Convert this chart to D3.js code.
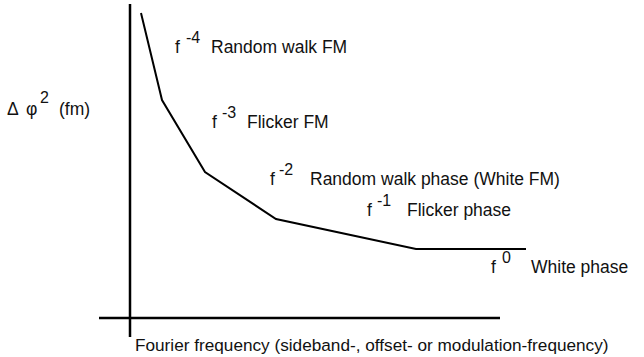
<!DOCTYPE html>
<html>
<head>
<meta charset="utf-8">
<script src="https://cdn.jsdelivr.net/npm/d3@7"></script>
<style>
  body { margin: 0; background: #fff; }
  text { font-family: "Liberation Sans", Arial, Helvetica, sans-serif; fill: #111; }
</style>
</head>
<body>
<div id="chart"></div>
<script>
// breakpoints of the noise curve (arbitrary units, origin at the axes cross)
const freq  = [11, 32, 75, 146, 286, 396];
const level = [305, 218, 146, 99, 69, 69];

// noise types
const exponents = ["-4", "-3", "-2", "-1", "0"];
const names = ["Random walk FM", "Flicker FM", "Random walk phase (White FM)", "Flicker phase", "White phase"];

const xTitle = "Fourier frequency (sideband-, offset- or modulation-frequency)";

const width = 644, height = 357;

const svg = d3.select("#chart")
  .append("svg")
  .attr("width", width)
  .attr("height", height);

const x = d3.scaleLinear().domain([0, 400]).range([130, 530]);
const y = d3.scaleLinear().domain([0, 320]).range([318, -2]);

// axes (just two crossing lines, no ticks)
svg.append("line")
  .attr("x1", x(-31)).attr("x2", x(370))
  .attr("y1", y(0)).attr("y2", y(0))
  .attr("stroke", "#000").attr("stroke-width", 2.5);

svg.append("line")
  .attr("x1", x(0)).attr("x2", x(0))
  .attr("y1", y(-19)).attr("y2", y(314))
  .attr("stroke", "#000").attr("stroke-width", 2.5);

const pts = freq.map((f, i) => [f, level[i]]);

svg.append("path")
  .datum(pts)
  .attr("fill", "none")
  .attr("stroke", "#000")
  .attr("stroke-width", 2)
  .attr("stroke-linejoin", "miter")
  .attr("d", d3.line().x(d => x(d[0])).y(d => y(d[1])));

// label layout: x of "f", x of exponent, x of name, baseline
const labelPos = [
  [175, 186, 211, 53],
  [212, 222, 247, 128],
  [270, 279, 310, 185],
  [367, 377, 407, 216],
  [491, 502, 531, 273]
];
const fs = 17.5;

const lab = svg.selectAll(".lab")
  .data(names)
  .enter()
  .append("g")
  .attr("class", "lab");

lab.append("text")
  .attr("x", (d, i) => labelPos[i][0])
  .attr("y", (d, i) => labelPos[i][3])
  .attr("font-size", fs)
  .text("f");

lab.append("text")
  .attr("x", (d, i) => labelPos[i][1])
  .attr("y", (d, i) => labelPos[i][3] - 10)
  .attr("font-size", 16)
  .text((d, i) => exponents[i]);

lab.append("text")
  .attr("x", (d, i) => labelPos[i][2])
  .attr("y", (d, i) => labelPos[i][3])
  .attr("font-size", fs)
  .text(d => d);

// y label
const yl = svg.append("g").attr("transform", "translate(7,115)");
yl.append("text").attr("font-size", fs).text("\u0394");
yl.append("text").attr("x", 19).attr("font-size", fs).text("\u03c6");
yl.append("text").attr("x", 33).attr("y", -12).attr("font-size", 16).text("2");
yl.append("text").attr("x", 52).attr("font-size", fs).text("(fm)");

// x title
svg.append("text")
  .attr("x", 135)
  .attr("y", 351)
  .attr("font-size", 17.2)
  .text(xTitle);
</script>
</body>
</html>
